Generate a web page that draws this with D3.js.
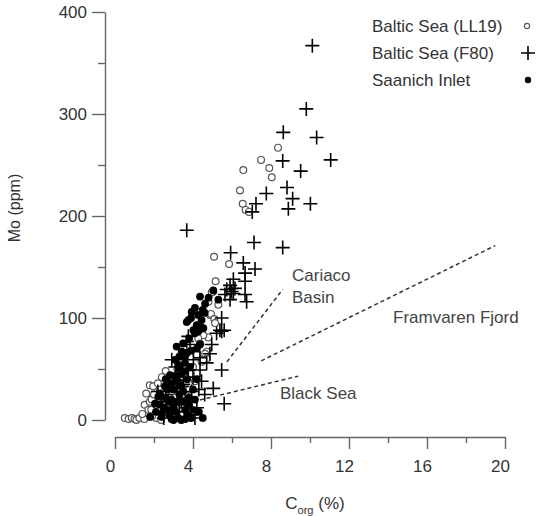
<!DOCTYPE html>
<html>
<head>
<meta charset="utf-8">
<script src="https://cdn.jsdelivr.net/npm/d3@7"></script>
<style>
  body { margin: 0; background: #fff; }
  svg { font-family: 'Liberation Sans', Arial, sans-serif; }
</style>
</head>
<body>
<svg id="chart" width="538" height="516"></svg>
<script>
// data: [Corg %, Mo ppm]
const balticLL19 = [
  [8.36, 267], [7.49, 255], [7.91, 247], [6.58, 245], [8.04, 238], [6.41, 225],
  [6.55, 212], [6.7, 206], [6.87, 204], [5.08, 160], [5.85, 153], [5.16, 136],
  [5.04, 126], [4.96, 125], [4.79, 116], [5.3, 113], [4.87, 103], [4.92, 104],
  [5.09, 99], [5.13, 95], [4.79, 81], [4.53, 83], [4.27, 80], [4.36, 75],
  [4.7, 67], [4.62, 65], [4.7, 60], [4.44, 57], [4.19, 64], [4.53, 59],
  [0.5, 2], [0.7, 1], [0.86, 2], [1.0, 1], [1.1, 0], [1.25, 2], [1.5, 1],
  [1.52, 15], [1.6, 26], [1.71, 10], [1.78, 34], [1.78, 18], [1.86, 10],
  [1.96, 33], [1.88, 20], [2.12, 2], [2.37, 0], [2.0, 25], [2.2, 12], [2.3, 30],
  [2.5, 20], [2.6, 8], [2.7, 38], [2.8, 15], [2.9, 28], [3.0, 5], [3.1, 22],
  [3.3, 35], [3.4, 12], [3.5, 42], [3.6, 25], [3.8, 30], [3.9, 45], [4.1, 38],
  [2.4, 42], [1.4, 6], [1.9, 4], [2.6, 48], [3.2, 50], [4.0, 52], [2.2, 36]
];
const balticF80 = [
  [10.12, 367], [9.81, 305], [8.63, 282], [10.34, 277], [8.6, 254], [11.06, 255],
  [9.52, 244], [8.82, 228], [9.11, 217], [10.02, 212], [8.89, 207], [7.76, 222],
  [7.23, 212], [7.04, 204], [3.68, 186], [7.13, 174], [8.6, 169], [5.93, 164],
  [6.58, 154], [7.18, 148], [6.67, 144], [6.07, 138], [6.67, 136], [5.9, 132],
  [6.15, 129], [5.73, 128], [6.07, 124], [5.64, 123], [6.67, 123], [5.9, 118],
  [6.75, 116], [5.98, 126], [5.47, 100], [5.38, 88], [5.6, 88], [5.47, 87],
  [5.21, 85], [3.76, 82], [3.68, 77], [4.96, 74], [3.85, 74], [4.87, 65],
  [4.36, 61], [4.7, 56], [2.91, 59], [4.02, 59], [4.36, 49], [3.76, 49],
  [5.47, 49], [3.16, 46], [4.44, 38], [5.04, 31], [3.93, 28], [3.42, 33],
  [5.6, 16], [2.6, 25], [3.0, 15], [3.3, 8], [2.8, 35], [3.6, 20], [4.2, 12],
  [2.4, 18], [3.9, 5], [2.2, 28], [4.6, 25], [3.2, 28], [2.9, 8], [3.5, 35],
  [4.0, 42], [3.7, 12], [2.5, 2], [4.3, 30], [3.1, 52], [3.4, 18], [4.1, 2]
];
const saanich = [
  [5.04, 127], [4.36, 121], [5.3, 118], [4.62, 114], [3.93, 106], [4.27, 103],
  [3.76, 98], [4.44, 98], [4.19, 93], [4.53, 90], [4.27, 87], [3.68, 96],
  [4.36, 92], [4.02, 88], [3.16, 72], [3.42, 67], [3.59, 62], [4.36, 74],
  [3.25, 54], [3.08, 59], [3.59, 56], [3.85, 52], [3.33, 51], [2.82, 44],
  [2.56, 33], [2.22, 23], [2.05, 16], [3.25, 2], [2.39, 3], [4.1, 20], [3.4, 0],
  [3.6, 1], [3.9, 2], [2.9, 1], [2.7, 10], [3.0, 30], [3.2, 38], [2.5, 12],
  [3.5, 28], [3.8, 15], [2.9, 20], [3.1, 8], [3.7, 40], [3.4, 45], [2.7, 30],
  [3.2, 18], [2.4, 6], [3.6, 10], [4.0, 30], [2.1, 8], [1.8, 3],
  [4.1, 110], [4.5, 108], [3.9, 100], [4.1, 85], [3.8, 80], [3.5, 75],
  [3.9, 68], [4.2, 70], [3.3, 62], [3.7, 66], [4.6, 105], [4.8, 120],
  [2.3, 15], [2.6, 22], [2.8, 5], [3.0, 12], [3.3, 25], [3.5, 18], [3.7, 5],
  [4.0, 10], [4.3, 8], [3.1, 42], [2.9, 36], [3.4, 33], [3.8, 22], [4.2, 40],
  [3.6, 48], [2.6, 40], [2.3, 26], [4.5, 2], [3.0, 0], [2.75, 18]
];

// reference trends of other basins (dashed)
const trendNames = ['Cariaco Basin', 'Framvaren Fjord', 'Black Sea'];
const trendLines = [
  [[5.74, 57], [8.6, 128]],
  [[7.5, 58], [19.5, 171]],
  [[4.0, 18], [9.4, 43]]
];

const xTicks = [0, 4, 8, 12, 16, 20];
const xMinor = [2, 6, 10, 14, 18];
const yTicks = [0, 100, 200, 300, 400];
const yMinor = [50, 150, 250, 350];
const legendNames = ['Baltic Sea (LL19)', 'Baltic Sea (F80)', 'Saanich Inlet'];

const svg = d3.select('#chart');
const axisColor = '#666',
  textColor = '#333';

const x = d3.scaleLinear().domain([0, 20]).range([115, 505]);
const y = d3.scaleLinear().domain([0, 400]).range([420, 12]);

// y axis
const yAxis = svg.append('g').attr('transform', 'translate(105,0)');
yAxis.call(d3.axisLeft(y).tickValues(yTicks).tickSize(13).tickSizeOuter(0).tickPadding(5));
yAxis.append('g').call(d3.axisLeft(y).tickValues(yMinor).tickSize(7).tickFormat(''))
  .select('.domain').remove();

// x axis
const xAxis = svg.append('g').attr('transform', 'translate(0,437)');
xAxis.call(d3.axisBottom(x).tickValues(xTicks).tickSize(12).tickSizeOuter(0).tickPadding(11));
xAxis.append('g').call(d3.axisBottom(x).tickValues(xMinor).tickSize(6).tickFormat(''))
  .select('.domain').remove();
xAxis.selectAll('text').attr('dx', -5);

svg.selectAll('.domain, .tick line')
  .attr('stroke', axisColor)
  .attr('stroke-width', 1.4);
svg.selectAll('.tick text')
  .attr('fill', textColor)
  .style('font-size', '17px')
  .style('font-family', "'Liberation Sans', Arial, sans-serif");

// axis titles
svg.append('text')
  .attr('transform', 'translate(20,208) rotate(-90)')
  .attr('text-anchor', 'middle')
  .attr('fill', textColor)
  .style('font-size', '16px')
  .text('Mo (ppm)');

const xTitle = svg.append('text')
  .attr('x', 315)
  .attr('y', 509)
  .attr('text-anchor', 'middle')
  .attr('fill', textColor)
  .style('font-size', '17px');
xTitle.append('tspan').text('C');
xTitle.append('tspan').attr('dy', 5).style('font-size', '11px').text('org');
xTitle.append('tspan').attr('dy', -5).text(' (%)');

// dashed trend lines
const line = d3.line().x((d) => x(d[0])).y((d) => y(d[1]));
svg.append('g')
  .selectAll('path')
  .data(trendLines)
  .enter()
  .append('path')
  .attr('d', line)
  .attr('fill', 'none')
  .attr('stroke', '#333')
  .attr('stroke-width', 1.5)
  .attr('stroke-dasharray', '4,3');

// basin labels
const labels = svg.append('g').attr('fill', '#444').style('font-size', '17px');
labels.append('text').attr('x', 292).attr('y', 281).text(trendNames[0].split(' ')[0]);
labels.append('text').attr('x', 292).attr('y', 303).text(trendNames[0].split(' ')[1]);
labels.append('text').attr('x', 393).attr('y', 323).text(trendNames[1]);
labels.append('text').attr('x', 280).attr('y', 399).text(trendNames[2]);

// symbols
const plus = (g, px, py, s) => {
  g.append('path')
    .attr('d', `M${px - s},${py}H${px + s}M${px},${py - s}V${py + s}`)
    .attr('stroke', '#000')
    .attr('stroke-width', 1.6)
    .attr('fill', 'none');
};

const marks = svg.append('g');
marks.selectAll('circle.ll19')
  .data(balticLL19)
  .enter()
  .append('circle')
  .attr('class', 'll19')
  .attr('cx', (d) => x(d[0]))
  .attr('cy', (d) => y(d[1]))
  .attr('r', 3.4)
  .attr('fill', '#fff')
  .attr('stroke', '#555')
  .attr('stroke-width', 1.2);

marks.selectAll('circle.saanich')
  .data(saanich)
  .enter()
  .append('circle')
  .attr('class', 'saanich')
  .attr('cx', (d) => x(d[0]))
  .attr('cy', (d) => y(d[1]))
  .attr('r', 3.9)
  .attr('fill', '#000');

const plusG = marks.append('g');
balticF80.forEach((d) => plus(plusG, x(d[0]), y(d[1]), 7));

// legend
const legend = svg.append('g').attr('fill', textColor).style('font-size', '17px');
legendNames.forEach((name, i) => {
  legend.append('text').attr('x', 372).attr('y', 32 + i * 27).text(name);
});
legend.append('circle').attr('cx', 527).attr('cy', 26).attr('r', 2.6)
  .attr('fill', '#fff').attr('stroke', '#555').attr('stroke-width', 1.1);
plus(legend, 528, 53, 7);
legend.append('circle').attr('cx', 528).attr('cy', 80).attr('r', 3.2).attr('fill', '#000');
</script>
</body>
</html>
